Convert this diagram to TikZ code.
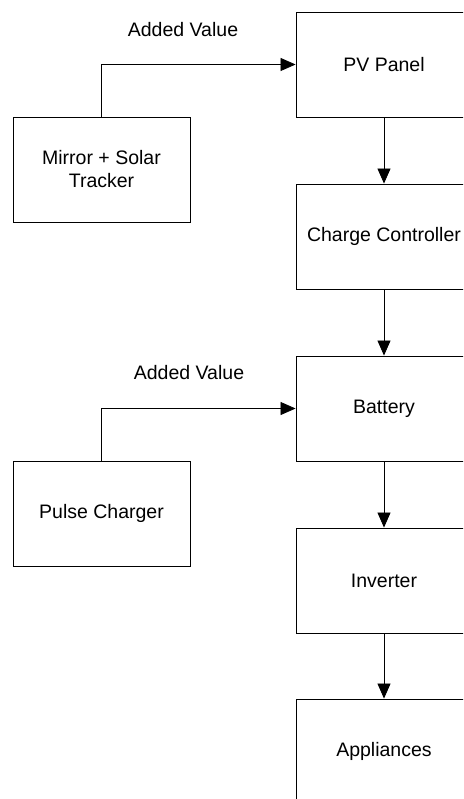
\documentclass[tikz,border=0pt]{standalone}
\usepackage{fontspec}
\setmainfont{Liberation Sans}
\usetikzlibrary{arrows.meta}
\begin{document}
\begin{tikzpicture}[x=1pt,y=-1pt,
  blockbox/.style={draw, line width=0.9pt, minimum width=176pt, minimum height=105pt,
    inner sep=0pt, align=center, font=\fontsize{19.5}{23}\selectfont},
  flow/.style={draw, line width=0.8pt, -{Triangle[length=15pt,width=13pt]}},
  tag/.style={font=\fontsize{19.5}{23}\selectfont}]
\useasboundingbox (0,0) rectangle (463,799);
\clip (0,0) rectangle (463,799);
% main chain
\node[blockbox] (pv)  at (384,64.5)  {PV Panel};
\node[blockbox] (cc)  at (384,236.5) {Charge Controller};
\node[blockbox] (bat) at (384,408.5) {Battery};
\node[blockbox] (inv) at (384,580.5) {Inverter};
\node[blockbox] (app) at (384,751.5) {Appliances};
% add-ons
\node[blockbox, minimum width=177pt] (mir) at (101.5,169.5) {Mirror + Solar\\Tracker};
\node[blockbox, minimum width=177pt] (pul) at (101.5,513.5) {Pulse Charger};
% labels
\node[tag] (av1) at (183,30) {Added Value};
\node[tag] (av2) at (189,373) {Added Value};
% connectors
\draw[flow] (pv) -- (cc);
\draw[flow] (cc) -- (bat);
\draw[flow] (bat) -- (inv);
\draw[flow] (inv) -- (app);
\draw[flow] (mir.north) |- (pv.west);
\draw[flow] (pul.north) |- (bat.west);
\end{tikzpicture}
\end{document}
